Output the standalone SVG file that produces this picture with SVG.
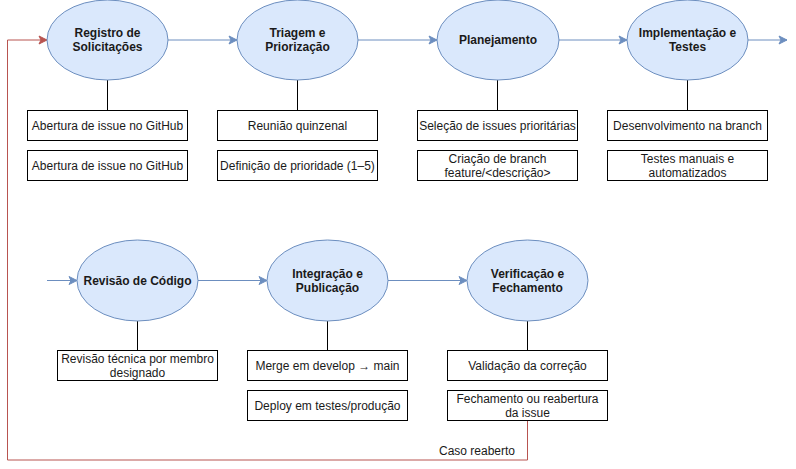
<svg xmlns="http://www.w3.org/2000/svg" width="796" height="469" viewBox="0 0 796 469">
<style>
.st{fill:#dae8fc;stroke:#6c8ebf;stroke-width:1}
.bx{fill:#fff;stroke:#000;stroke-width:1}
.t{font-family:"Liberation Sans",Arial,sans-serif;font-size:12px;fill:#1a1a1a;text-anchor:middle}
.b{font-weight:bold}
.fl{fill:none;stroke:#6c8ebf;stroke-width:1}
.ln{fill:none;stroke:#000;stroke-width:1}
.rd{fill:none;stroke:#b85450;stroke-width:1}
</style>
<defs>
<marker id="ab" viewBox="0 0 10 10" refX="9" refY="5" markerWidth="10" markerHeight="10" markerUnits="userSpaceOnUse" orient="auto">
<path d="M1,1 L9,5 L1,9 L3,5 Z" fill="#6c8ebf" stroke="#6c8ebf"/>
</marker>
<marker id="ar" viewBox="0 0 10 10" refX="9" refY="5" markerWidth="10" markerHeight="10" markerUnits="userSpaceOnUse" orient="auto">
<path d="M1,1 L9,5 L1,9 L3,5 Z" fill="#b85450" stroke="#b85450"/>
</marker>
</defs>
<rect width="796" height="469" fill="#fff"/>
<g id="connectors">
<path class="fl" d="M168,40 H237" marker-end="url(#ab)"/>
<path class="fl" d="M358,40 H437" marker-end="url(#ab)"/>
<path class="fl" d="M559,40 H627" marker-end="url(#ab)"/>
<path class="fl" d="M748,40 H787" marker-end="url(#ab)"/>
<path class="fl" d="M47,280.5 H77" marker-end="url(#ab)"/>
<path class="fl" d="M198,280.5 H267" marker-end="url(#ab)"/>
<path class="fl" d="M388,280.5 H467" marker-end="url(#ab)"/>
<path class="ln" d="M107.5,80 V110"/>
<path class="ln" d="M297.5,80 V110"/>
<path class="ln" d="M497.5,80 V110"/>
<path class="ln" d="M687.5,80 V110"/>
<path class="ln" d="M137.5,321 V350"/>
<path class="ln" d="M327.5,321 V350"/>
<path class="ln" d="M527.5,321 V350"/>
<path class="rd" d="M527.5,420 V460 H7.5 V40 H47" marker-end="url(#ar)"/>
<text class="t" x="477" y="455">Caso reaberto</text>
</g>
<g id="registro">
<ellipse class="st" cx="107.5" cy="40" rx="60.5" ry="40"/>
<text class="t b" x="107.5" y="37">Registro de</text>
<text class="t b" x="107.5" y="51">Solicitações</text>
<rect class="bx" x="27.5" y="110.5" width="160" height="30"/>
<text class="t" x="107.5" y="130">Abertura de issue no GitHub</text>
<rect class="bx" x="27.5" y="150.5" width="160" height="30"/>
<text class="t" x="107.5" y="170">Abertura de issue no GitHub</text>
</g>
<g id="triagem">
<ellipse class="st" cx="297.5" cy="40" rx="60.5" ry="40"/>
<text class="t b" x="297.5" y="37">Triagem e</text>
<text class="t b" x="297.5" y="51">Priorização</text>
<rect class="bx" x="217.5" y="110.5" width="160" height="30"/>
<text class="t" x="297.5" y="130">Reunião quinzenal</text>
<rect class="bx" x="217.5" y="150.5" width="160" height="30"/>
<text class="t" x="297.5" y="170">Definição de prioridade (1–5)</text>
</g>
<g id="planejamento">
<ellipse class="st" cx="498" cy="40" rx="61" ry="40"/>
<text class="t b" x="498" y="44">Planejamento</text>
<rect class="bx" x="417.5" y="110.5" width="160" height="30"/>
<text class="t" x="497.5" y="130">Seleção de issues prioritárias</text>
<rect class="bx" x="417.5" y="150.5" width="160" height="30"/>
<text class="t" x="497.5" y="163">Criação de branch</text>
<text class="t" x="497.5" y="177">feature/&lt;descrição&gt;</text>
</g>
<g id="implementacao">
<ellipse class="st" cx="687.5" cy="40" rx="60.5" ry="40"/>
<text class="t b" x="687.5" y="37">Implementação e</text>
<text class="t b" x="687.5" y="51">Testes</text>
<rect class="bx" x="607.5" y="110.5" width="160" height="30"/>
<text class="t" x="687.5" y="130">Desenvolvimento na branch</text>
<rect class="bx" x="607.5" y="150.5" width="160" height="30"/>
<text class="t" x="687.5" y="163">Testes manuais e</text>
<text class="t" x="687.5" y="177">automatizados</text>
</g>
<g id="revisao">
<ellipse class="st" cx="137.5" cy="280.5" rx="60.5" ry="40.5"/>
<text class="t b" x="137.5" y="285">Revisão de Código</text>
<rect class="bx" x="57.5" y="350.5" width="160" height="30"/>
<text class="t" x="137.5" y="363">Revisão técnica por membro</text>
<text class="t" x="137.5" y="377">designado</text>
</g>
<g id="integracao">
<ellipse class="st" cx="327.5" cy="280.5" rx="60.5" ry="40.5"/>
<text class="t b" x="327.5" y="278">Integração e</text>
<text class="t b" x="327.5" y="292">Publicação</text>
<rect class="bx" x="247.5" y="350.5" width="160" height="30"/>
<text class="t" x="327.5" y="370">Merge em develop → main</text>
<rect class="bx" x="247.5" y="390.5" width="160" height="30"/>
<text class="t" x="327.5" y="410">Deploy em testes/produção</text>
</g>
<g id="verificacao">
<ellipse class="st" cx="527.5" cy="280.5" rx="60.5" ry="40.5"/>
<text class="t b" x="527.5" y="278">Verificação e</text>
<text class="t b" x="527.5" y="292">Fechamento</text>
<rect class="bx" x="447.5" y="350.5" width="160" height="30"/>
<text class="t" x="527.5" y="370">Validação da correção</text>
<rect class="bx" x="447.5" y="390.5" width="160" height="30"/>
<text class="t" x="527.5" y="403">Fechamento ou reabertura</text>
<text class="t" x="527.5" y="417">da issue</text>
</g>
</svg>
